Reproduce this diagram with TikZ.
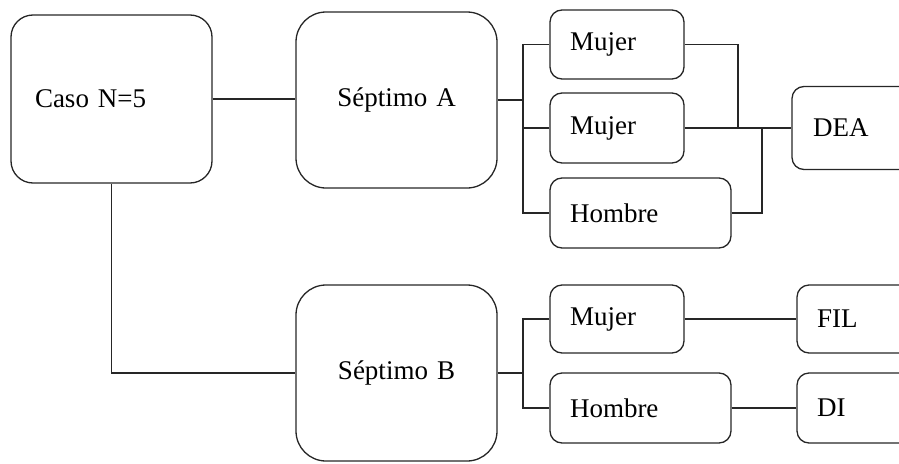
\documentclass[tikz,border=0pt]{standalone}
\usepackage{fontspec}
\setmainfont{Liberation Serif}
\newfontfamily\boxfont{Liberation Serif}
\tikzset{
  box/.style={draw=black!85, line width=1.3pt, rounded corners=#1, font=\boxfont\fontsize{27}{32}\selectfont},
  box/.default=12pt,
  link/.style={draw=black!85, line width=1.3pt}
}
\begin{document}
\begin{tikzpicture}[x=1pt,y=-1pt]
      \useasboundingbox (0,0) rectangle (899,463);
      \node[box=22pt, minimum height=168pt, text width=153pt, inner xsep=24pt, align=left] (caso) at (111.5,99) {Caso N=5};
      \node[box=30pt, minimum height=176pt, text width=161pt, inner xsep=20pt, align=center] (sepA) at (396.5,100) {Séptimo A};
      \node[box=30pt, minimum height=176pt, text width=161pt, inner xsep=20pt, align=center] (sepB) at (396.5,373) {Séptimo B};
      \node[box, minimum height=69pt, text width=94pt, inner xsep=20pt, align=left] (mujA1) at (617,44.5) {Mujer};
      \node[box, minimum height=70pt, text width=94pt, inner xsep=20pt, align=left] (mujA2) at (617,128) {Mujer};
      \node[box, minimum height=70pt, text width=141pt, inner xsep=20pt, align=left] (homA) at (640.5,213) {Hombre};
      \node[box, minimum height=83pt, text width=81pt, inner xsep=21pt, align=left] (dea) at (853.5,128) {DEA};
      \node[box, minimum height=68pt, text width=94pt, inner xsep=20pt, align=left] (mujB) at (617,319) {Mujer};
      \node[box, minimum height=70pt, text width=141pt, inner xsep=20pt, align=left] (homB) at (640.5,408) {Hombre};
      \node[box, minimum height=68pt, text width=78pt, inner xsep=20pt, align=left] (fil) at (856,319) {FIL};
      \node[box, minimum height=70pt, text width=78pt, inner xsep=20pt, align=left] (di) at (856,408) {DI};
      \coordinate (tA) at (523,100);
      \coordinate (tB) at (523,376);
      \coordinate (jA) at (738,128);
      \coordinate (jB) at (762,128);
      \draw[link] (caso.east) -- (caso.east -| sepA.west);
      \draw[link] (caso.south) |- (sepB.west);
      \draw[link] (sepA.east) -- (tA);
      \draw[link] (mujA1.west) -| (tA) |- (homA.west);
      \draw[link] (mujA2.west) -- (mujA2.west -| tA);
      \draw[link] (mujA1.east) -| (jA);
      \draw[link] (mujA2.east) -- (dea.west);
      \draw[link] (homA.east) -| (jB);
      \draw[link] (sepB.east) -- (sepB.east -| tB);
      \draw[link] (mujB.west) -| (tB) |- (homB.west);
      \draw[link] (mujB) -- (fil);
      \draw[link] (homB) -- (di);
    \end{tikzpicture}
\end{document}
